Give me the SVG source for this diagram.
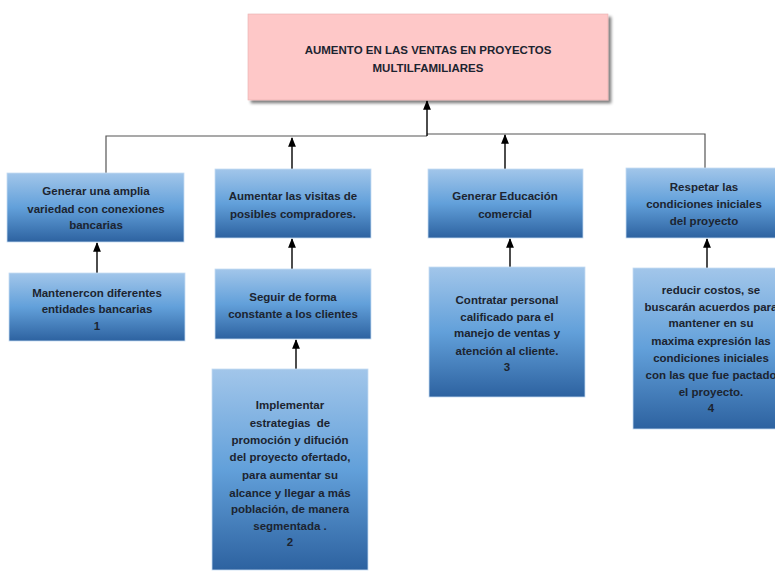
<svg xmlns="http://www.w3.org/2000/svg" width="775" height="571" viewBox="0 0 775 571">
<defs>
<linearGradient id="blue" x1="0" y1="0" x2="0" y2="1">
<stop offset="0" stop-color="#a2c6ea"/>
<stop offset="0.5" stop-color="#62a0da"/>
<stop offset="1" stop-color="#2d62a0"/>
</linearGradient>
<filter id="sh" x="-5%" y="-10%" width="115%" height="130%">
<feGaussianBlur in="SourceAlpha" stdDeviation="1.5"/>
<feOffset dx="3" dy="3" result="b"/>
<feComponentTransfer><feFuncA type="linear" slope="0.5"/></feComponentTransfer>
<feMerge><feMergeNode/><feMergeNode in="SourceGraphic"/></feMerge>
</filter>
<marker id="arr" viewBox="0 0 10 10" refX="9" refY="5" markerWidth="7" markerHeight="7" orient="auto">
<path d="M0,1 L10,5 L0,9 Z" fill="#000"/>
</marker>
</defs>
<style>
.box{fill:url(#blue);stroke:#c6dcf2;stroke-width:0.8}
.t{font-family:"Liberation Sans",Arial,sans-serif;font-weight:bold;font-size:11.5px;fill:#1c2430;text-anchor:middle}
.c{fill:none;stroke:#555;stroke-width:1.2}
.a{fill:none;stroke:#000;stroke-width:1.4;marker-end:url(#arr)}
</style>
<rect width="775" height="571" fill="#fff"/>

<g id="connectors">
<polyline class="c" points="106,173 106,136 427,136"/>
<polyline class="c" points="427,134 705,134 705,168"/>
<line class="a" x1="427" y1="136" x2="427" y2="101"/>
<line class="a" x1="292" y1="169" x2="292" y2="138"/>
<line class="a" x1="505" y1="169" x2="505" y2="135"/>
<line class="a" x1="97" y1="273" x2="97" y2="243"/>
<line class="a" x1="292" y1="269" x2="292" y2="239"/>
<line class="a" x1="296" y1="369" x2="296" y2="340"/>
<line class="a" x1="510" y1="267" x2="510" y2="239"/>
<line class="a" x1="707" y1="268" x2="707" y2="239"/>
</g>

<g id="root">
<rect x="248" y="14" width="360" height="86" fill="#fec8c8" stroke="#e8b0b0" stroke-width="0.6" filter="url(#sh)"/>
<text class="t" x="428" y="54">AUMENTO EN LAS VENTAS EN PROYECTOS</text>
<text class="t" x="428" y="72">MULTILFAMILIARES</text>
</g>

<g id="n1">
<rect class="box" x="7" y="173" width="177" height="69"/>
<text class="t" x="96" y="195">Generar una amplia</text>
<text class="t" x="96" y="213">variedad con conexiones</text>
<text class="t" x="96" y="229">bancarias</text>
</g>

<g id="n2">
<rect class="box" x="215" y="169" width="156" height="69"/>
<text class="t" x="293" y="200">Aumentar las visitas de</text>
<text class="t" x="293" y="218">posibles compradores.</text>
</g>

<g id="n3">
<rect class="box" x="428" y="169" width="155" height="69"/>
<text class="t" x="505" y="200">Generar Educación</text>
<text class="t" x="505" y="218">comercial</text>
</g>

<g id="n4">
<rect class="box" x="626" y="168" width="152" height="70"/>
<text class="t" x="704" y="191">Respetar las</text>
<text class="t" x="704" y="208">condiciones iniciales</text>
<text class="t" x="704" y="225">del proyecto</text>
</g>

<g id="n1b">
<rect class="box" x="9" y="273" width="176" height="68"/>
<text class="t" x="97" y="297">Mantenercon diferentes</text>
<text class="t" x="97" y="313">entidades bancarias</text>
<text class="t" x="97" y="330">1</text>
</g>

<g id="n2b">
<rect class="box" x="215" y="269" width="156" height="70"/>
<text class="t" x="293" y="301">Seguir de forma</text>
<text class="t" x="293" y="318">constante a los clientes</text>
</g>

<g id="n2c">
<rect class="box" x="212" y="369" width="156" height="201"/>
<text class="t" x="290" y="409">Implementar</text>
<text class="t" x="290" y="427" xml:space="preserve">estrategias  de</text>
<text class="t" x="290" y="444">promoción y difución</text>
<text class="t" x="290" y="461">del proyecto ofertado,</text>
<text class="t" x="290" y="479">para aumentar su</text>
<text class="t" x="290" y="497">alcance y llegar a más</text>
<text class="t" x="290" y="513">población, de manera</text>
<text class="t" x="290" y="530">segmentada .</text>
<text class="t" x="290" y="546">2</text>
</g>

<g id="n3b">
<rect class="box" x="429" y="267" width="156" height="130"/>
<text class="t" x="507" y="304">Contratar personal</text>
<text class="t" x="507" y="321">calificado para el</text>
<text class="t" x="507" y="337">manejo de ventas y</text>
<text class="t" x="507" y="355">atención al cliente.</text>
<text class="t" x="507" y="371">3</text>
</g>

<g id="n4b">
<rect class="box" x="633" y="268" width="156" height="161"/>
<text class="t" x="711" y="294">reducir costos, se</text>
<text class="t" x="711" y="311">buscarán acuerdos para</text>
<text class="t" x="711" y="327">mantener en su</text>
<text class="t" x="711" y="345">maxima expresión las</text>
<text class="t" x="711" y="362">condiciones iniciales</text>
<text class="t" x="711" y="379">con las que fue pactado</text>
<text class="t" x="711" y="396">el proyecto.</text>
<text class="t" x="711" y="412">4</text>
</g>
</svg>
